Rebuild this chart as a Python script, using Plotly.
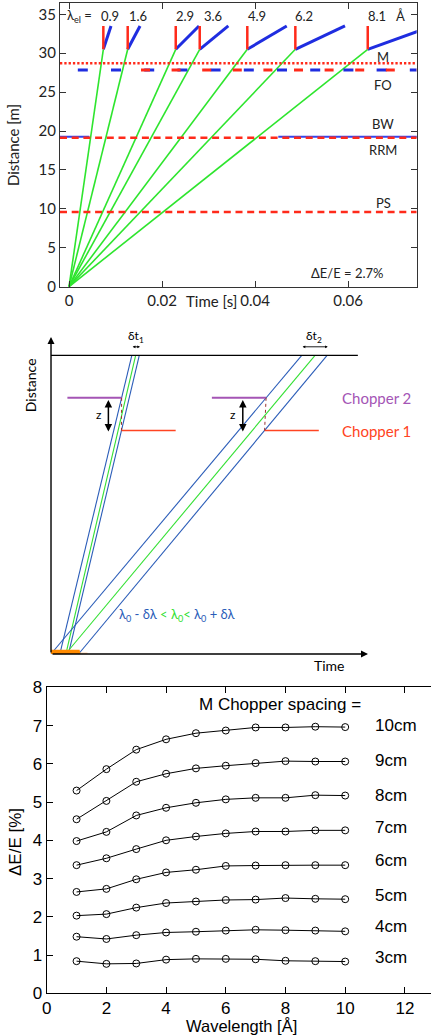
import plotly.graph_objects as go

# ---------------- Panel 1: time-of-flight diagram ----------------
lam_el = [0.9, 1.6, 2.9, 3.6, 4.9, 6.2, 8.1]
t_arrival = [0.00738, 0.01262, 0.02295, 0.02811, 0.03834, 0.04867, 0.06424]
t_blue_end = [0.00903, 0.01527, 0.02796, 0.03426, 0.04682, 0.05935, 0.07822]
d_sample = 30.5
d_top = 33.5
y_M = 28.70
y_FO = 27.84
y_BW = 19.27
y_RRM = 19.14
y_PS = 9.60
bw_segments = [(-0.002, 0.00437), (0.0450, 0.076)]
fo_blue_start = 0.00189
fo_red_start = 0.01548
x1_range = [-0.00194, 0.07477]
y1_range = [0, 36.45]
label_names = ["M", "FO", "BW", "RRM", "PS"]
label_y = [29.45, 25.9, 20.9, 17.5, 10.8]

# ---------------- Panel 2: schematic ----------------
D_det = 94.2
d_ch2 = 80.8
d_ch1 = 70.5
fast_t0 = [2.8, 4.7, 5.5]
fast_t1 = [25.5, 26.7, 27.85]
slow_t0 = [0.0, 4.6, 8.7]
slow_t1 = [79.1, 83.3, 87.1]
chopper_len = 17.1
z_t = [18.1, 60.5]
pulse_end = 9.0

# ---------------- Panel 3: resolution vs wavelength ----------------
wavelength = [1, 2, 3, 4, 5, 6, 7, 8, 9, 10]
spacing_labels = ["10cm", "9cm", "8cm", "7cm", "6cm", "5cm", "4cm", "3cm"]
dE_10 = [5.30, 5.86, 6.37, 6.64, 6.80, 6.87, 6.95, 6.95, 6.97, 6.96]
dE_9 = [4.55, 5.03, 5.53, 5.74, 5.88, 5.95, 6.02, 6.07, 6.06, 6.06]
dE_8 = [3.98, 4.22, 4.65, 4.85, 4.98, 5.07, 5.11, 5.11, 5.18, 5.17]
dE_7 = [3.35, 3.53, 3.77, 4.00, 4.10, 4.18, 4.23, 4.23, 4.26, 4.26]
dE_6 = [2.65, 2.73, 2.98, 3.16, 3.23, 3.33, 3.34, 3.35, 3.35, 3.35]
dE_5 = [2.03, 2.07, 2.24, 2.36, 2.40, 2.44, 2.45, 2.49, 2.47, 2.46]
dE_4 = [1.48, 1.42, 1.52, 1.59, 1.61, 1.64, 1.66, 1.65, 1.64, 1.62]
dE_3 = [0.84, 0.77, 0.78, 0.88, 0.90, 0.90, 0.89, 0.85, 0.84, 0.83]
spacing_label_y = [7.01, 6.08, 5.18, 4.34, 3.48, 2.57, 1.74, 0.94]

GREEN = "#2ee52e"
BLUE = "#1f2de0"
RED = "#ff2a1a"

fig = go.Figure()

# ---- Panel 1 traces ----
for t in t_arrival:
    fig.add_trace(go.Scatter(x=[0, t], y=[0, d_sample], mode="lines",
                             line=dict(color=GREEN, width=1.6), xaxis="x", yaxis="y"))
fig.add_trace(go.Scatter(x=x1_range, y=[y_M, y_M], mode="lines",
                         line=dict(color=RED, width=2.4, dash="2.3px,2px"), xaxis="x", yaxis="y"))
fig.add_trace(go.Scatter(x=[fo_blue_start, x1_range[1]], y=[y_FO, y_FO], mode="lines",
                         line=dict(color=BLUE, width=3, dash="10px,23.2px"), xaxis="x", yaxis="y"))
fig.add_trace(go.Scatter(x=[fo_red_start, x1_range[1]], y=[y_FO, y_FO], mode="lines",
                         line=dict(color=RED, width=3, dash="9px,21.6px"), xaxis="x", yaxis="y"))
for a, b in bw_segments:
    fig.add_trace(go.Scatter(x=[a, b], y=[y_BW, y_BW], mode="lines",
                             line=dict(color="#3344ee", width=2), xaxis="x", yaxis="y"))
fig.add_trace(go.Scatter(x=x1_range, y=[y_RRM, y_RRM], mode="lines",
                         line=dict(color=RED, width=2.6, dash="7px,4.7px"), xaxis="x", yaxis="y"))
fig.add_trace(go.Scatter(x=x1_range, y=[y_PS, y_PS], mode="lines",
                         line=dict(color=RED, width=2.6, dash="7px,4.7px"), xaxis="x", yaxis="y"))
for t, tb in zip(t_arrival, t_blue_end):
    fig.add_trace(go.Scatter(x=[t, tb], y=[d_sample, d_top], mode="lines",
                             line=dict(color=BLUE, width=3), xaxis="x", yaxis="y"))
    fig.add_trace(go.Scatter(x=[t, t], y=[d_sample, d_top], mode="lines",
                             line=dict(color=RED, width=2.5), xaxis="x", yaxis="y"))

# ---- Panel 2 traces ----
S_BLUE = "#2a5cb8"
S_GREEN = "#33e033"
S_PURPLE = "#a455b5"
S_RED = "#ff4422"
S_ORANGE = "#ff8a00"
path_colors = [S_BLUE, S_GREEN, S_BLUE]


def t_at(t0, t1, d):
    return t0 + (t1 - t0) * d / D_det


for t0s, t1s in [(fast_t0, fast_t1), (slow_t0, slow_t1)]:
    for t0, t1, c in zip(t0s, t1s, path_colors):
        fig.add_trace(go.Scatter(x=[t0, t1], y=[0, D_det], mode="lines",
                                 line=dict(color=c, width=1.1), xaxis="x2", yaxis="y2"))
    c2_end = t_at(t0s[0], t1s[0], d_ch2)
    c1_start = t_at(t0s[2], t1s[2], d_ch1)
    fig.add_trace(go.Scatter(x=[c2_end - chopper_len, c2_end], y=[d_ch2, d_ch2], mode="lines",
                             line=dict(color=S_PURPLE, width=2), xaxis="x2", yaxis="y2"))
    fig.add_trace(go.Scatter(x=[c1_start, c1_start + chopper_len], y=[d_ch1, d_ch1], mode="lines",
                             line=dict(color=S_RED, width=1.6), xaxis="x2", yaxis="y2"))
    fig.add_trace(go.Scatter(x=[c2_end, c1_start], y=[d_ch2, d_ch1], mode="lines",
                             line=dict(color="#993333", width=1, dash="dot"), xaxis="x2", yaxis="y2"))

fig.add_trace(go.Scatter(x=[0, 96.8], y=[D_det, D_det], mode="lines",
                         line=dict(color="black", width=1.3), xaxis="x2", yaxis="y2"))
fig.add_trace(go.Scatter(x=[0, pulse_end + 2.5, pulse_end + 2.5, 0, 0], y=[0, 0, 0.5, 0.5, 0],
                         mode="lines", fill="toself", fillcolor="rgba(255,160,80,0.45)",
                         line=dict(width=0), xaxis="x2", yaxis="y2"))
fig.add_trace(go.Scatter(x=[0, pulse_end + 0.3, pulse_end, 0, 0], y=[0, 0, 1.3, 1.3, 0],
                         mode="lines", fill="toself", fillcolor=S_ORANGE,
                         line=dict(width=0), xaxis="x2", yaxis="y2"))

# ---- Panel 3 traces ----
for ys in [dE_10, dE_9, dE_8, dE_7, dE_6, dE_5, dE_4, dE_3]:
    fig.add_trace(go.Scatter(x=wavelength, y=ys, mode="lines+markers",
                             line=dict(color="black", width=1),
                             marker=dict(symbol="circle-open", size=7, color="black",
                                         line=dict(width=1, color="black")),
                             xaxis="x3", yaxis="y3"))

ann = []
F1 = "Lato, 'Open Sans', sans-serif"
F3 = "Liberation Sans, Arial, sans-serif"
ann.append(dict(x=-0.0009, y=34.8, xref="x", yref="y", text="λ<sub>el</sub> =", showarrow=False,
                xanchor="left", font=dict(family=F1, size=13, color="#222")))
lam_label_x = [0.0088, 0.0148, 0.0250, 0.0310, 0.0404, 0.0505, 0.0662]
for lx, lv in zip(lam_label_x, lam_el):
    ann.append(dict(x=lx, y=34.8, xref="x", yref="y", text=f"{lv}", showarrow=False,
                    font=dict(family=F1, size=13, color="#222")))
ann.append(dict(x=0.0712, y=34.8, xref="x", yref="y", text="Å", showarrow=False,
                font=dict(family=F1, size=13, color="#222")))
for nm, ly in zip(label_names, label_y):
    ann.append(dict(x=0.0676, y=ly, xref="x", yref="y", text=nm, showarrow=False,
                    font=dict(family=F1, size=13, color="#222")))
ann.append(dict(x=0.0597, y=1.8, xref="x", yref="y", text="ΔE/E = 2.7%", showarrow=False,
                font=dict(family=F1, size=13, color="#222")))
ann.append(dict(x=13 / 431, y=1 - 145 / 1036, xref="paper", yref="paper", text="Distance [m]",
                textangle=-90, showarrow=False, xanchor="center", yanchor="middle",
                font=dict(family=F1, size=15, color="#222")))
ann.append(dict(x=211 / 431, y=1 - 301 / 1036, xref="paper", yref="paper", text="Time [s]",
                showarrow=False, xanchor="center", yanchor="middle",
                font=dict(family=F1, size=15, color="#222")))

ann.append(dict(x=0, y=100, ax=0, ay=0, xref="x2", yref="y2", axref="x2", ayref="y2", text="",
                showarrow=True, arrowhead=2, arrowsize=1, arrowwidth=1.4, arrowcolor="black"))
ann.append(dict(x=100, y=0, ax=0, ay=0, xref="x2", yref="y2", axref="x2", ayref="y2", text="",
                showarrow=True, arrowhead=2, arrowsize=1, arrowwidth=1.4, arrowcolor="black"))
for zt in z_t:
    ann.append(dict(x=zt, y=d_ch1 - 0.3, ax=zt, ay=d_ch2 - 0.2, xref="x2", yref="y2", axref="x2",
                    ayref="y2", text="", showarrow=True, arrowhead=2, startarrowhead=2,
                    arrowside="end+start", arrowsize=1, arrowwidth=1.5, arrowcolor="black"))
    ann.append(dict(x=zt - 1.4, y=(d_ch1 + d_ch2) / 2, xref="x2", yref="y2", text="z",
                    showarrow=False, xanchor="right", font=dict(family=F1, size=12, color="black")))
for (ta, tb), lab in [((fast_t1[0], fast_t1[2]), "δt<sub>1</sub>"), ((slow_t1[0], slow_t1[2]), "δt<sub>2</sub>")]:
    ann.append(dict(x=tb + 0.2, y=96.9, ax=ta - 0.2, ay=96.9, xref="x2", yref="y2", axref="x2",
                    ayref="y2", text="", showarrow=True, arrowhead=2, startarrowhead=2,
                    arrowside="end+start", arrowsize=0.6, arrowwidth=0.9, arrowcolor="black"))
    ann.append(dict(x=(ta + tb) / 2, y=100.0, xref="x2", yref="y2", text=lab, showarrow=False,
                    font=dict(family=F1, size=12, color="black")))
ann.append(dict(x=-2.9, y=84.9, xref="x2", yref="y2", text="Distance", textangle=-90,
                showarrow=False, xanchor="right", font=dict(family=F1, size=14, color="black")))
ann.append(dict(x=88, y=-3.7, xref="x2", yref="y2", text="Time", showarrow=False,
                font=dict(family=F1, size=14, color="black")))
ann.append(dict(x=91.2, y=d_ch2, xref="x2", yref="y2", text="Chopper 2", showarrow=False,
                xanchor="left", font=dict(family=F1, size=15, color=S_PURPLE)))
ann.append(dict(x=91.2, y=d_ch1 - 0.3, xref="x2", yref="y2", text="Chopper 1", showarrow=False,
                xanchor="left", font=dict(family=F1, size=15, color=S_RED)))
leg = (f"<span style='color:{S_BLUE}'>λ<sub>0</sub> - δλ </span>"
       f"<span style='color:{S_GREEN}'>&lt; λ<sub>0</sub>&lt; </span>"
       f"<span style='color:{S_BLUE}'>λ<sub>0</sub> + δλ</span>")
ann.append(dict(x=20.7, y=12.3, xref="x2", yref="y2", text=leg, showarrow=False, xanchor="left",
                font=dict(family=F1, size=13, color=S_BLUE)))

ann.append(dict(x=7.83, y=7.56, xref="x3", yref="y3", text="M Chopper spacing =", showarrow=False,
                font=dict(family=F3, size=17, color="black")))
for lab, ly in zip(spacing_labels, spacing_label_y):
    ann.append(dict(x=10.94, y=ly, xref="x3", yref="y3", text=lab, showarrow=False, xanchor="left",
                    font=dict(family=F3, size=17, color="black")))
ann.append(dict(x=15 / 431, y=1 - 842 / 1036, xref="paper", yref="paper", text="ΔE/E [%]",
                textangle=-90, showarrow=False, xanchor="center", yanchor="middle",
                font=dict(family=F3, size=17, color="black")))
ann.append(dict(x=241 / 431, y=1 - 1026 / 1036, xref="paper", yref="paper", text="Wavelength [Å]",
                showarrow=False, xanchor="center", yanchor="middle",
                font=dict(family=F3, size=16.5, color="black")))

ax1 = dict(showline=True, linecolor="#333", linewidth=1.3, mirror="ticks", ticks="inside",
           ticklen=6, tickcolor="#333", showgrid=False, zeroline=False, automargin=False,
           tickfont=dict(family=F1, size=15, color="#222"))
ax3 = dict(showline=True, linecolor="black", linewidth=1, ticks="inside", ticklen=6,
           tickcolor="black", showgrid=False, zeroline=False, automargin=False,
           tickfont=dict(family=F3, size=17, color="black"))

fig.update_layout(
    width=431, height=1036, margin=dict(l=0, r=0, t=0, b=0, autoexpand=False),
    paper_bgcolor="white", plot_bgcolor="white", showlegend=False,
    xaxis=dict(domain=[60 / 431, 416.7 / 431], range=x1_range, tickvals=[0, 0.02, 0.04, 0.06],
               ticktext=["0", "0.02", "0.04", "0.06"], anchor="y", **ax1),
    yaxis=dict(domain=[1 - 286.7 / 1036, 1 - 3 / 1036], range=y1_range,
               tickvals=[0, 5, 10, 15, 20, 25, 30, 35], anchor="x", **ax1),
    xaxis2=dict(domain=[0, 1], range=[-16.09, 119.87], visible=False, anchor="y2", automargin=False),
    yaxis2=dict(domain=[1 - 670 / 1036, 1 - 330 / 1036], range=[-5.05, 102.2], visible=False,
                anchor="x2", automargin=False),
    xaxis3=dict(domain=[46.7 / 431, 1.0], range=[0, 12.875], tickvals=[0, 2, 4, 6, 8, 10, 12],
                mirror="ticks", anchor="y3", ticklabelstandoff=-1, **ax3),
    yaxis3=dict(domain=[1 - 993.3 / 1036, 1 - 687.3 / 1036], range=[0, 8],
                tickvals=[0, 1, 2, 3, 4, 5, 6, 7, 8], anchor="x3", **ax3),
    annotations=ann,
)

fig.write_html("out.html", config={"displayModeBar": False},
               post_script="document.body.style.margin='0';document.body.style.overflow='hidden';")
